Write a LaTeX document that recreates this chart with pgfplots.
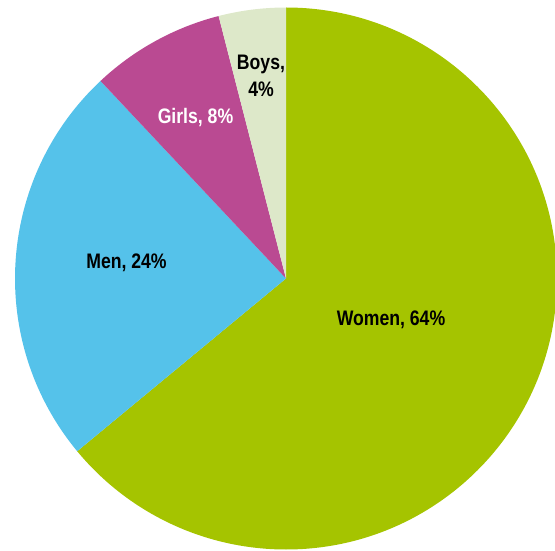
\documentclass[border=0pt]{standalone}
\usepackage{pgfplots}
\pgfplotsset{compat=1.18}
\usepackage{fontspec}
\setmainfont{Liberation Sans}[FakeStretch=0.84]
\definecolor{cW}{HTML}{A5C400}
\definecolor{cM}{HTML}{55C2EA}
\definecolor{cG}{HTML}{BA4A92}
\definecolor{cB}{HTML}{DDE8C9}
% slice values (percent)
\def\vW{64}\def\vM{24}\def\vG{8}\def\vB{4}
\pgfmathsetmacro\aA{90}
\pgfmathsetmacro\aB{\aA-3.6*\vW}
\pgfmathsetmacro\aC{\aB-3.6*\vM}
\pgfmathsetmacro\aD{\aC-3.6*\vG}
\pgfmathsetmacro\aE{\aD-3.6*\vB}
\def\R{271pt}
\begin{document}
\begin{tikzpicture}
\begin{axis}[width=555pt,height=550pt,scale only axis,
  xmin=0,xmax=555,ymin=0,ymax=550,axis lines=none,ticks=none,clip=true]
\fill[cW] (axis cs:286,271.5) -- ++(\aA:\R) arc[start angle=\aA,end angle=\aB,radius=\R] -- cycle;
\fill[cM] (axis cs:286,271.5) -- ++(\aB:\R) arc[start angle=\aB,end angle=\aC,radius=\R] -- cycle;
\fill[cG] (axis cs:286,271.5) -- ++(\aC:\R) arc[start angle=\aC,end angle=\aD,radius=\R] -- cycle;
\fill[cB] (axis cs:286,271.5) -- ++(\aD:\R) arc[start angle=\aD,end angle=\aE,radius=\R] -- cycle;
\tikzset{lbl/.style={font=\fontsize{21}{27}\selectfont\bfseries}}
\node[lbl] at (axis cs:391,230) {Women, \vW\%};
\node[lbl] at (axis cs:126.5,287) {Men, \vM\%};
\node[lbl,text=white] at (axis cs:195.5,432.5) {Girls, \vG\%};
\node[lbl,align=center] at (axis cs:261,474) {Boys,\\\vB\%};
\end{axis}
\pgfresetboundingbox
\path (current axis.south west) rectangle (current axis.north east);
\end{tikzpicture}
\end{document}
